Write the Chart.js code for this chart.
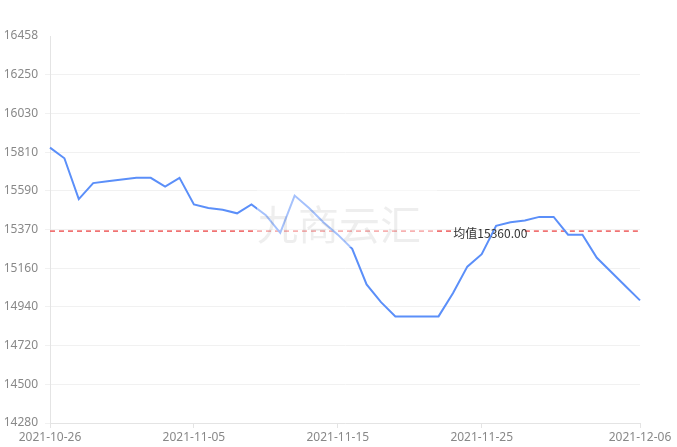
<!DOCTYPE html>
<html>
<head>
<meta charset="utf-8">
<script src="https://cdn.jsdelivr.net/npm/chart.js@4/dist/chart.umd.min.js"></script>
<style>
  html, body { margin: 0; padding: 0; background: #ffffff; }
  #wrap { width: 677px; height: 447px; }
</style>
</head>
<body>
<div id="wrap"><canvas id="c" width="677" height="447"></canvas></div>
<script>
const dates = [
  '2021-10-26','2021-10-27','2021-10-28','2021-10-29','2021-10-30','2021-10-31',
  '2021-11-01','2021-11-02','2021-11-03','2021-11-04','2021-11-05','2021-11-06',
  '2021-11-07','2021-11-08','2021-11-09','2021-11-10','2021-11-11','2021-11-12',
  '2021-11-13','2021-11-14','2021-11-15','2021-11-16','2021-11-17','2021-11-18',
  '2021-11-19','2021-11-20','2021-11-21','2021-11-22','2021-11-23','2021-11-24',
  '2021-11-25','2021-11-26','2021-11-27','2021-11-28','2021-11-29','2021-11-30',
  '2021-12-01','2021-12-02','2021-12-03','2021-12-04','2021-12-05','2021-12-06'
];
const prices = [
  15830, 15770, 15540, 15630, 15640, 15650,
  15660, 15660, 15610, 15660, 15510, 15490,
  15480, 15460, 15510, 15450, 15350, 15560,
  15490, 15410, 15340, 15260, 15060, 14960,
  14880, 14880, 14880, 14880, 15010, 15160,
  15230, 15390, 15410, 15420, 15440, 15440,
  15340, 15340, 15210, 15130, 15050, 14970
];
const xTickLabels = ['2021-10-26', '2021-11-05', '2021-11-15', '2021-11-25', '2021-12-06'];
const yTickLabels = [14280, 14500, 14720, 14940, 15160, 15370, 15590, 15810, 16030, 16250, 16458];
const meanValue = 15360;
const meanLabel = '均值' + meanValue.toFixed(2);
const watermarkText = '九商云汇';

const yMin = yTickLabels[0];
const yMax = yTickLabels[yTickLabels.length - 1];
const RED = 'rgba(239,108,108,0.95)';

const overlayPlugin = {
  id: 'overlay',
  afterDatasetsDraw(chart) {
    const ctx = chart.ctx;
    const xs = chart.scales.x, ys = chart.scales.y;
    ctx.save();
    // watermark
    ctx.fillStyle = 'rgba(255,255,255,0.45)';
    ctx.fillRect(257, 186, 180, 61);
    ctx.fillStyle = 'rgba(0,0,0,0.065)';
    ctx.font = '41px "Noto Sans CJK SC"';
    ctx.textAlign = 'center';
    ctx.textBaseline = 'middle';
    ctx.fillText(watermarkText, 339, 224);
    // mean label
    const my = ys.getPixelForValue(meanValue);
    const mx = xs.getPixelForValue(30.6);
    ctx.fillStyle = '#333';
    ctx.font = '12px "Noto Sans CJK SC"';
    ctx.fillText(meanLabel, mx, my + 2.5);
    ctx.restore();
  }
};

new Chart(document.getElementById('c'), {
  type: 'line',
  data: {
    labels: dates,
    datasets: [
      {
        data: prices,
        borderColor: '#5b8ff9',
        borderWidth: 2,
        pointRadius: 0,
        tension: 0,
        fill: false
      },
      {
        data: dates.map(() => meanValue),
        borderColor: RED,
        borderWidth: 1.6,
        borderDash: [5, 4],
        pointRadius: 0,
        tension: 0,
        fill: false,
        segment: {
          borderColor: c => (c.p0DataIndex >= 28 && c.p0DataIndex < 33) ? 'rgba(0,0,0,0)' : RED
        }
      }
    ]
  },
  options: {
    responsive: false,
    animation: false,
    layout: { padding: { top: 36, right: 37, bottom: 0, left: 0 } },
    plugins: { legend: { display: false }, tooltip: { enabled: false } },
    scales: {
      x: {
        type: 'category',
        offset: false,
        afterFit: s => { s.height = 24; },
        border: { color: '#e4e4e4', width: 1 },
        grid: { drawOnChartArea: false, drawTicks: true, tickLength: 5, color: '#e4e4e4' },
        ticks: {
          autoSkip: false,
          maxRotation: 0,
          minRotation: 0,
          padding: 2,
          color: '#888',
          font: { family: '"Noto Sans"', size: 12 },
          callback: (v, i) => xTickLabels.includes(dates[i]) ? dates[i] : null
        }
      },
      y: {
        type: 'linear',
        min: yMin,
        max: yMax,
        afterFit: s => { s.width = 50; },
        afterBuildTicks: s => {
          s.ticks = yTickLabels.map((_, i) => ({ value: yMin + i * (yMax - yMin) / (yTickLabels.length - 1) }));
        },
        border: { color: '#e4e4e4', width: 1 },
        grid: {
          color: c => (c.index === yTickLabels.length - 1) ? 'rgba(0,0,0,0)' : '#f1f1f1',
          lineWidth: 1,
          tickLength: 5
        },
        ticks: {
          padding: 7,
          color: '#888',
          font: { family: '"Noto Sans"', size: 12 },
          callback: (v, i) => String(yTickLabels[i])
        }
      }
    }
  },
  plugins: [overlayPlugin]
});
</script>
</body>
</html>
